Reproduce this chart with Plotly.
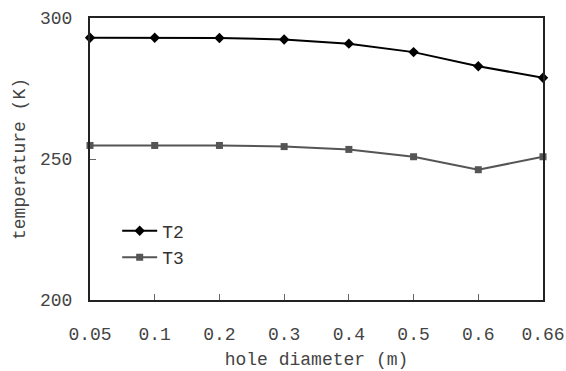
import plotly.graph_objects as go

categories = ["0.05", "0.1", "0.2", "0.3", "0.4", "0.5", "0.6", "0.66"]
t2_values = [293.0, 293.0, 292.9, 292.4, 290.9, 287.9, 282.9, 278.8]
t3_values = [254.8, 254.8, 254.8, 254.4, 253.4, 250.8, 246.2, 250.8]
y_ticks = [200, 250, 300]

FONT = "Liberation Mono, Courier New, monospace"
TXT = "#444444"

fig = go.Figure()
fig.add_trace(go.Scatter(
    x=categories, y=t2_values, name="T2", mode="lines+markers",
    line=dict(color="#000000", width=2),
    marker=dict(symbol="diamond", size=8, color="#000000"),
    cliponaxis=False,
))
fig.add_trace(go.Scatter(
    x=categories, y=t3_values, name="T3", mode="lines+markers",
    line=dict(color="#555555", width=2),
    marker=dict(symbol="square", size=7, color="#555555"),
    cliponaxis=False,
))

fig.update_layout(
    width=566, height=371,
    margin=dict(l=90, r=23, t=18, b=71),
    paper_bgcolor="white", plot_bgcolor="white",
    font=dict(family=FONT, size=18, color=TXT),
    legend=dict(x=0.06, y=0.31, xanchor="left", yanchor="top",
                bgcolor="rgba(0,0,0,0)", font=dict(family=FONT, size=18, color="#333333"),
                tracegroupgap=0, itemwidth=35),
    showlegend=True,
)
fig.update_xaxes(
    type="category", range=[0, len(categories) - 1],
    showline=True, linecolor="#222222", linewidth=2, mirror=True,
    ticks="inside", ticklen=6, tickcolor="#666666",
    showgrid=False, zeroline=False, automargin=False,
    title=dict(text="hole diameter (m)", standoff=9, font=dict(family=FONT, size=18, color=TXT)),
    tickfont=dict(family=FONT, size=18, color=TXT),
    ticklabelstandoff=16,
)
fig.update_yaxes(
    range=[200, 300], tickvals=y_ticks,
    showline=True, linecolor="#222222", linewidth=2, mirror=True,
    ticks="inside", ticklen=6, tickcolor="#666666",
    showgrid=False, zeroline=False, automargin=False,
    title=dict(text="temperature (K)", standoff=10, font=dict(family=FONT, size=18, color=TXT)),
    tickfont=dict(family=FONT, size=18, color=TXT),
    ticklabelstandoff=12,
)

fig.write_html("out.html", config={"displayModeBar": False},
               post_script="document.body.style.margin='0';document.body.style.overflow='hidden';")
